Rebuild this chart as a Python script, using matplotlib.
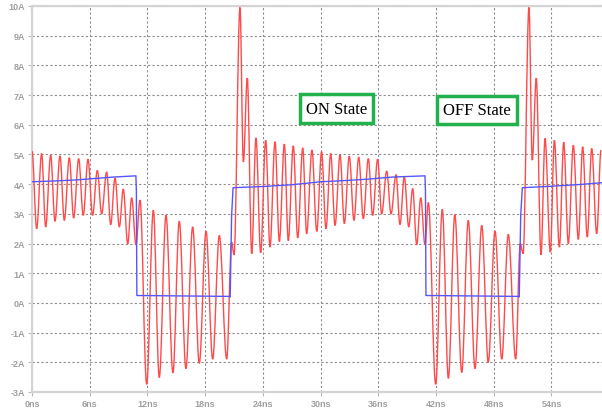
import numpy as np
import matplotlib
matplotlib.use("Agg")
import matplotlib.pyplot as plt
from matplotlib.path import Path
from matplotlib.patches import PathPatch
from matplotlib.font_manager import FontProperties

# red trace: peaks and troughs (ns, A)
red_t = [0, 0.49, 1.0, 1.42, 1.94, 2.39, 2.91, 3.36, 3.88, 4.33, 4.85, 5.33, 5.82, 6.3,
         6.79, 7.24, 7.76, 8.18, 8.63, 9.08, 9.49, 9.95, 10.36, 10.81, 11.23,
         11.92, 12.61, 13.23, 13.93, 14.65, 15.31, 16.0, 16.7, 17.39, 18.09, 18.78, 19.47,
         20.24, 20.75, 21.0, 21.62, 21.97, 22.38, 22.84, 23.28, 23.77, 24.29, 24.74,
         25.26, 25.71, 26.23, 26.64, 27.16, 27.62, 28.14, 28.55, 29.1, 29.6, 30.1, 30.56,
         31.05, 31.5, 32.02, 32.47, 32.98, 33.47, 33.96, 34.44, 34.96, 35.41, 35.93, 36.35,
         36.87, 37.32, 37.84, 38.25, 38.7, 39.16, 39.57, 39.99, 40.41, 40.85, 41.2,
         41.96, 42.65, 43.28, 43.95, 44.67, 45.35, 46.05, 46.75, 47.43, 48.13, 48.83, 49.51,
         50.28, 50.75, 51.05, 51.66, 52.0, 52.42, 52.91, 53.33, 53.88, 54.3, 54.82,
         55.27, 55.75, 56.27, 56.79, 57.24, 57.72, 58.18, 58.7, 59.15]
red_i = [5.11, 2.5, 5.03, 2.56, 4.98, 2.75, 4.95, 2.78, 4.89, 2.86, 4.86, 2.95, 4.84, 2.95,
         4.46, 3.0, 4.41, 2.64, 4.21, 2.56, 3.83, 1.99, 3.54, 1.96, 3.46,
         -2.74, 3.12, -2.51, 2.95, -2.35, 2.75, -2.21, 2.56, -2.03, 2.41, -1.89, 2.27,
         -1.89, 2.05, 1.62, 9.95, 4.75, 7.57, 1.66, 5.56, 1.69, 5.48, 1.88,
         5.43, 2.07, 5.35, 2.1, 5.29, 2.19, 5.22, 2.33, 5.15, 2.41, 5.09, 2.5,
         5.03, 2.61, 4.98, 2.67, 4.94, 2.78, 4.91, 2.84, 4.86, 2.95, 4.84, 3.0,
         4.44, 3.0, 4.32, 2.64, 4.25, 2.56, 3.85, 1.96, 3.54, 1.96, 3.38,
         -2.74, 3.15, -2.54, 2.97, -2.34, 2.78, -2.21, 2.61, -2.0, 2.42, -1.89, 2.31,
         -1.89, 2.0, 1.66, 9.95, 4.81, 7.57, 1.62, 5.54, 1.71, 5.48, 1.88,
         5.41, 2.0, 5.31, 2.14, 5.26, 2.22, 5.2, 2.33, 5.15]

# blue trace: average current, breakpoints (ns, A)
blue_t = [0, 2.5, 4.5, 6.5, 8.5, 10.8, 10.85, 10.9, 20.5, 20.6, 20.75, 20.9,
          24.0, 27.0, 30.0, 32.5, 35.0, 37.5, 40.85, 40.9, 40.95, 50.55, 50.65, 50.8, 50.97,
          54.0, 57.0, 59.3]
blue_i = [4.08, 4.11, 4.14, 4.19, 4.24, 4.28, 3.76, 0.25, 0.22, 0.2, 2.95, 3.88,
          3.92, 3.98, 4.08, 4.12, 4.17, 4.24, 4.28, 3.76, 0.25, 0.22, 0.2, 2.95, 3.88,
          3.93, 3.99, 4.05]

x_ticks = [0, 6, 12, 18, 24, 30, 36, 42, 48, 54]
y_ticks = list(range(-3, 11))

labels = ["ON State", "OFF State"]
label_pos = [(31.65, 6.54), (46.26, 6.5)]


def extrema_path(ts, vs, k=0.36):
    # bezier through the extrema, flat tangent at each peak/trough
    verts = [(ts[0], vs[0])]
    codes = [Path.MOVETO]
    for i in range(1, len(ts)):
        dt = ts[i] - ts[i - 1]
        verts += [(ts[i - 1] + k * dt, vs[i - 1]), (ts[i] - k * dt, vs[i]), (ts[i], vs[i])]
        codes += [Path.CURVE4] * 3
    return Path(verts, codes)


fig = plt.figure(figsize=(6.02, 4.14), dpi=100)
ax = fig.add_axes([32 / 602, 21 / 414, 570 / 602, 386 / 414])

ax.add_patch(PathPatch(extrema_path(red_t, red_i), fc="none", ec="#ff4a4a", lw=1.0, zorder=3))
ax.plot(blue_t, blue_i, color="#5555ff", lw=1.0, zorder=4)

ax.set_xlim(0, 59.25)
ax.set_ylim(-3, 10)
ax.set_xticks(x_ticks)
ax.set_xticklabels([str(t) + "ns" for t in x_ticks])
ax.set_yticks(y_ticks)
ax.set_yticklabels([str(v) + "A" for v in y_ticks])

tick_font = FontProperties(family="Liberation Sans", weight="bold", size=6.5)
for lab in ax.get_xticklabels() + ax.get_yticklabels():
    lab.set_fontproperties(tick_font)
    lab.set_color("#a0a0a0")
ax.tick_params(axis="both", length=3, width=0.8, color="#bbbbbb", pad=2)

ax.grid(True, color="#8c8c8c", linestyle=(0, (2, 2)), lw=0.8)
ax.set_axisbelow(True)

for side in ["left", "bottom", "top"]:
    ax.spines[side].set_color("#d4d4d4")
    ax.spines[side].set_linewidth(1.6)
ax.spines["right"].set_visible(False)

for txt, (tx, ty) in zip(labels, label_pos):
    ax.text(tx, ty, txt, ha="center", va="center", fontsize=12,
            family="Liberation Serif", color="black", zorder=6,
            bbox=dict(boxstyle="square,pad=0.38", fc="white", ec="#22b14c", lw=2.5))

fig.savefig("out.png", dpi=100)
